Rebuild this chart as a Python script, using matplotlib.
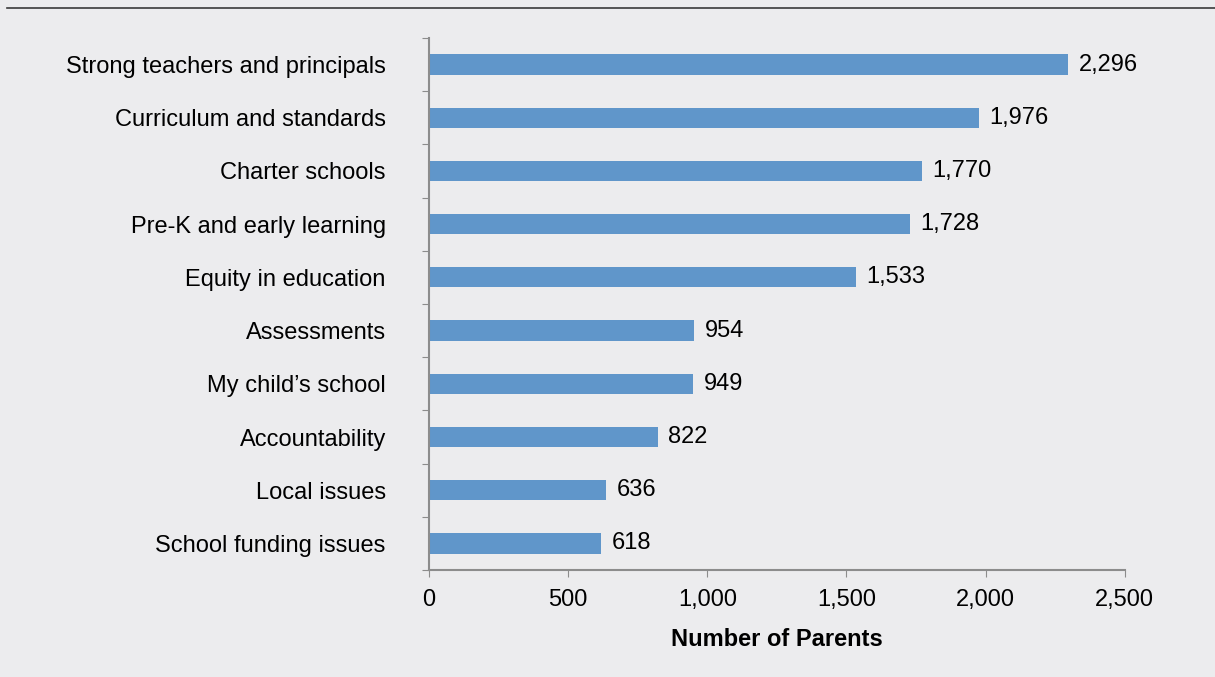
import numpy as np
import matplotlib.pyplot as plt
from matplotlib.lines import Line2D
from matplotlib.ticker import FuncFormatter

plt.rcParams['font.family'] = ['Liberation Sans', 'DejaVu Sans']

# 数据
topics = ["Strong teachers and principals", "Curriculum and standards", "Charter schools",
          "Pre-K and early learning", "Equity in education", "Assessments",
          "My child\u2019s school", "Accountability", "Local issues", "School funding issues"]
parents = [2296, 1976, 1770, 1728, 1533, 954, 949, 822, 636, 618]

bg = '#ECECEE'
bar_color = '#6096CA'
spine_color = '#8C8C8C'
fs = 17

fig = plt.figure(figsize=(12.15, 6.77), dpi=100, facecolor=bg)
ax = fig.add_axes([0.353, 0.158, 0.5728, 0.786], facecolor=bg)

y = np.arange(len(topics))[::-1]
ax.barh(y, parents, height=0.38, color=bar_color)

# 数值标签
for yi, v in zip(y, parents):
    ax.text(v + 38, yi, f"{v:,}", va='center', ha='left', fontsize=fs, color='black')

ax.set_xlim(0, 2500)
ax.set_ylim(-0.5, len(topics) - 0.5)
ax.set_xticks(np.arange(0, 2501, 500))
ax.xaxis.set_major_formatter(FuncFormatter(lambda x, p: f"{int(x):,}"))
ax.tick_params(axis='x', length=5, color=spine_color, labelsize=fs, pad=9)

# y轴：刻度在类别之间，标签在类别中间
ax.set_yticks(np.arange(-0.5, len(topics), 1))
ax.set_yticklabels([])
ax.set_yticks(y, minor=True)
ax.set_yticklabels(topics, minor=True)
ax.tick_params(axis='y', which='major', length=5, color=spine_color)
ax.tick_params(axis='y', which='minor', length=0, labelsize=fs, pad=31)

for s in ['top', 'right']:
    ax.spines[s].set_visible(False)
for s in ['left', 'bottom']:
    ax.spines[s].set_color(spine_color)
    ax.spines[s].set_linewidth(1.5)

ax.set_xlabel("Number of Parents", fontsize=fs, fontweight='bold', labelpad=12)

# 顶部横线
fig.add_artist(Line2D([0.006, 1.0], [1 - 8 / 677, 1 - 8 / 677], transform=fig.transFigure,
                      color='#3a3a3a', lw=1.2))

plt.savefig("out.png", dpi=100, facecolor=bg)
